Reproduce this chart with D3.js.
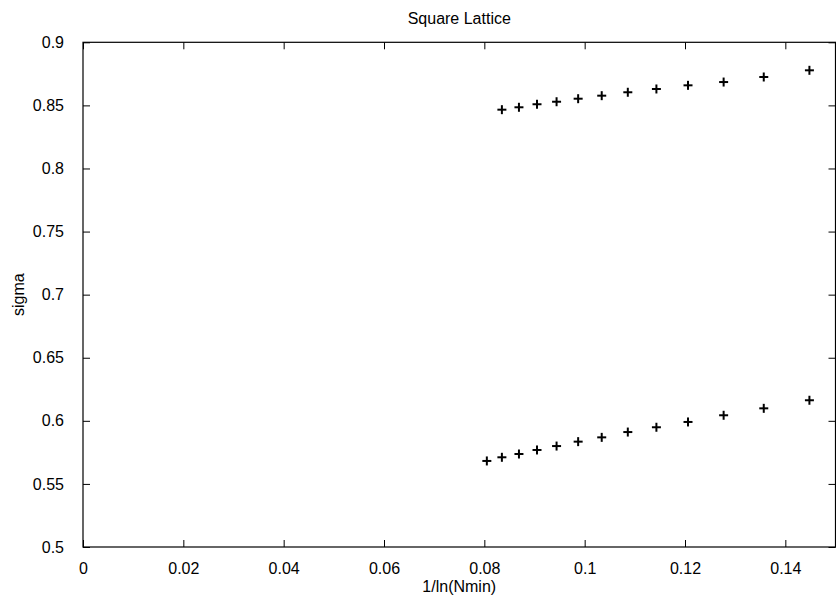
<!DOCTYPE html>
<html>
<head>
<meta charset="utf-8">
<script src="https://cdn.jsdelivr.net/npm/d3@7"></script>
<style>
  body { margin: 0; background: #fff; }
  svg { display: block; font-family: "Liberation Sans", Arial, sans-serif; }
  .axis path { display: none; }
  .axis line { stroke: #000; }
  .axis text { font-size: 16px; fill: #000; }
  .mark { stroke: #000; stroke-width: 2; }
</style>
</head>
<body>
<svg id="chart"></svg>
<script>
var upperX = [0.0835, 0.0869, 0.0905, 0.0944, 0.0987, 0.1034, 0.1086, 0.1143, 0.1206, 0.1277, 0.1357, 0.1448];
var upperY = [0.8466, 0.8485, 0.8509, 0.8529, 0.8553, 0.8577, 0.8604, 0.8630, 0.8659, 0.8685, 0.8725, 0.8778];
var lowerX = [0.0805, 0.0835, 0.0869, 0.0905, 0.0944, 0.0987, 0.1034, 0.1086, 0.1143, 0.1206, 0.1277, 0.1357, 0.1448];
var lowerY = [0.5682, 0.5711, 0.5737, 0.5769, 0.5800, 0.5835, 0.5869, 0.5911, 0.5949, 0.5991, 0.6044, 0.6099, 0.6163];
var xTicks = [0, 0.02, 0.04, 0.06, 0.08, 0.1, 0.12, 0.14];
var yTicks = [0.5, 0.55, 0.6, 0.65, 0.7, 0.75, 0.8, 0.85, 0.9];

var width = 836;
var height = 597;
var mLeft = 83, mRight = 835.5, mTop = 42.3, mBottom = 547;

var svg = d3.select('#chart')
	.attr('width', width)
	.attr('height', height);

var x = d3.scaleLinear().domain([0, 0.15]).range([mLeft, mRight]);
var y = d3.scaleLinear().domain([0.5, 0.9]).range([mBottom, mTop]);

var fmt = function(d) { return String(+d.toFixed(2)); };

// bottom axis, ticks pointing in
svg.append('g')
	.attr('class', 'axis')
	.attr('transform', `translate(0, ${mBottom})`)
	.call(d3.axisBottom(x).tickValues(xTicks).tickFormat(fmt).tickSizeInner(-7).tickPadding(16));

// top ticks
svg.append('g')
	.attr('class', 'axis')
	.attr('transform', `translate(0, ${mTop})`)
	.call(d3.axisTop(x).tickValues(xTicks).tickFormat('').tickSizeInner(-7));

// left axis
svg.append('g')
	.attr('class', 'axis')
	.attr('transform', `translate(${mLeft}, 0)`)
	.call(d3.axisLeft(y).tickValues(yTicks).tickFormat(fmt).tickSizeInner(-7).tickPadding(19));

// right ticks
svg.append('g')
	.attr('class', 'axis')
	.attr('transform', `translate(${mRight}, 0)`)
	.call(d3.axisRight(y).tickValues(yTicks).tickFormat('').tickSizeInner(-7));

svg.append('rect')
	.attr('x', mLeft)
	.attr('y', mTop)
	.attr('width', mRight - mLeft)
	.attr('height', mBottom - mTop)
	.attr('fill', 'none')
	.attr('stroke', '#000')
	.attr('stroke-width', 1.2);

svg.append('text')
	.text('Square Lattice')
	.attr('x', (mLeft + mRight) / 2)
	.attr('y', 24)
	.style('text-anchor', 'middle')
	.style('font-size', '16px');

svg.append('text')
	.text('1/ln(Nmin)')
	.attr('x', (mLeft + mRight) / 2)
	.attr('y', 592)
	.style('text-anchor', 'middle')
	.style('font-size', '16px');

svg.append('text')
	.text('sigma')
	.attr('transform', `translate(24, ${(mTop + mBottom) / 2}) rotate(-90)`)
	.style('text-anchor', 'middle')
	.style('font-size', '16px');

var pts = upperX.map((d, i) => ({x: d, y: upperY[i]}))
	.concat(lowerX.map((d, i) => ({x: d, y: lowerY[i]})));

var s = 4.5;
var marks = svg.selectAll('.pt')
	.data(pts)
	.enter()
	.append('g')
	.attr('class', 'pt')
	.attr('transform', d => `translate(${x(d.x)}, ${y(d.y)})`);

marks.append('line').attr('class', 'mark').attr('x1', -s).attr('x2', s).attr('y1', 0).attr('y2', 0);
marks.append('line').attr('class', 'mark').attr('x1', 0).attr('x2', 0).attr('y1', -s).attr('y2', s);
</script>
</body>
</html>
